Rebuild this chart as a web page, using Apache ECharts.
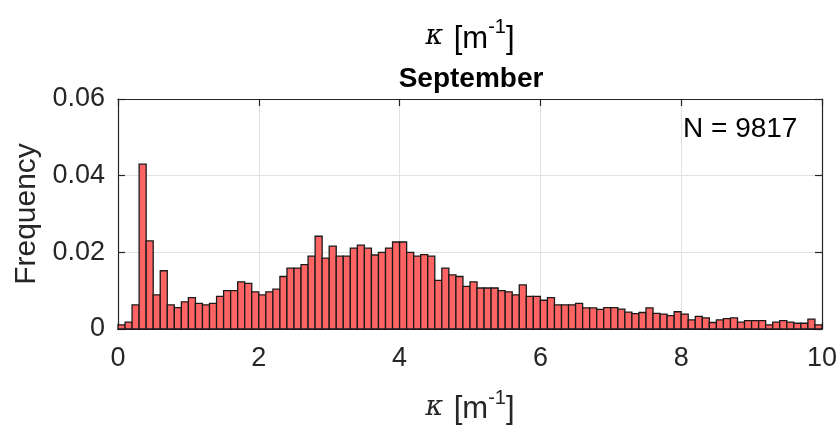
<!DOCTYPE html>
<html>
<head>
<meta charset="utf-8">
<script src="https://cdn.jsdelivr.net/npm/echarts@6/dist/echarts.min.js"></script>
<style>html,body{margin:0;padding:0;background:#fff;}#c{width:840px;height:430px;}</style>
</head>
<body>
<div id="c"></div>
<script>
// Histogram of curvature kappa, bins of width 0.1 from 0 to 10
const binWidth = 0.1;
const binStart = 0;
const frequencies = [
  0.0011,0.0018,0.0063,0.0430,0.0230,0.0089,0.0152,0.0063,0.0056,0.0071,
  0.0082,0.0067,0.0063,0.0067,0.0085,0.0100,0.0100,0.0123,0.0119,0.0097,
  0.0089,0.0097,0.0104,0.0137,0.0159,0.0159,0.0168,0.0190,0.0242,0.0185,
  0.0216,0.0190,0.0190,0.0211,0.0219,0.0211,0.0193,0.0200,0.0211,0.0227,
  0.0227,0.0200,0.0190,0.0194,0.0190,0.0127,0.0159,0.0141,0.0137,0.0111,
  0.0123,0.0107,0.0107,0.0107,0.0100,0.0097,0.0089,0.0115,0.0085,0.0085,
  0.0075,0.0082,0.0063,0.0063,0.0063,0.0067,0.0055,0.0055,0.0051,0.0056,
  0.0056,0.0052,0.0044,0.0040,0.0043,0.0055,0.0041,0.0039,0.0035,0.0045,
  0.0039,0.0024,0.0033,0.0029,0.0017,0.0024,0.0027,0.0029,0.0018,0.0022,
  0.0022,0.0022,0.0011,0.0018,0.0022,0.0018,0.0015,0.0015,0.0026,0.0011
];
const xTicks = [0, 2, 4, 6, 8, 10];
const yTicks = [0, 0.02, 0.04, 0.06];
const titleText = 'September';
const countText = 'N = 9817';

const data = frequencies.map((v, i) => [binStart + i * binWidth, binStart + (i + 1) * binWidth, v]);

const TXT = '#262626';
const FONT = '"Liberation Sans", Arial, Helvetica, sans-serif';
const kappaRich = {
  k: { fontFamily: '"DejaVu Serif", "Liberation Serif", serif', fontStyle: 'italic', fontSize: 27, color: TXT, lineHeight: 37, verticalAlign: 'bottom', padding: [0, 2, 4, 0] },
  t: { fontFamily: FONT, fontSize: 31, color: TXT, lineHeight: 37, verticalAlign: 'bottom' },
  s: { fontFamily: FONT, fontSize: 20, color: TXT, lineHeight: 17, verticalAlign: 'top' }
};
const kappaLabel = '{k|κ}{t| [m}{s|-1}{t|]}';

const chart = echarts.init(document.getElementById('c'), null, { renderer: 'canvas' });
const axisLineStyle = { color: TXT, width: 1.2 };
chart.setOption({
  animation: false,
  backgroundColor: '#fff',
  grid: { left: 118, right: 18, top: 99, bottom: 101, containLabel: false },
  xAxis: [{
    type: 'value', min: xTicks[0], max: xTicks[xTicks.length - 1], interval: 2,
    position: 'bottom',
    axisLine: { show: true, onZero: false, lineStyle: axisLineStyle },
    axisTick: { show: true, inside: true, length: 7, lineStyle: axisLineStyle },
    axisLabel: { color: TXT, fontSize: 27, fontFamily: FONT, margin: 16 },
    splitLine: { show: true, lineStyle: { color: '#e2e2e2', width: 1 } },
    name: kappaLabel, nameLocation: 'middle', nameGap: 59,
    nameTextStyle: { rich: kappaRich }
  }, {
    type: 'value', min: xTicks[0], max: xTicks[xTicks.length - 1], interval: 2,
    position: 'top',
    axisLine: { show: true, onZero: false, lineStyle: axisLineStyle },
    axisTick: { show: true, inside: true, length: 7, lineStyle: axisLineStyle },
    axisLabel: { show: false }, splitLine: { show: false }
  }],
  yAxis: [{
    type: 'value', min: yTicks[0], max: yTicks[yTicks.length - 1], interval: 0.02,
    position: 'left',
    axisLine: { show: true, onZero: false, lineStyle: axisLineStyle },
    axisTick: { show: true, inside: true, length: 7, lineStyle: axisLineStyle },
    axisLabel: { color: TXT, fontSize: 27, fontFamily: FONT, margin: 13,
      formatter: v => (v === 0 ? '0' : v.toFixed(2)) },
    splitLine: { show: true, lineStyle: { color: '#e2e2e2', width: 1 } },
    name: 'Frequency', nameLocation: 'middle', nameGap: 76,
    nameTextStyle: { color: TXT, fontSize: 30, fontFamily: FONT }
  }, {
    type: 'value', min: yTicks[0], max: yTicks[yTicks.length - 1], interval: 0.02,
    position: 'right',
    axisLine: { show: true, onZero: false, lineStyle: axisLineStyle },
    axisTick: { show: true, inside: true, length: 7, lineStyle: axisLineStyle },
    axisLabel: { show: false }, splitLine: { show: false }
  }],
  graphic: [
    { type: 'text', x: 470, y: 36, style: { text: kappaLabel, rich: kappaRich, align: 'center', verticalAlign: 'middle' } },
    { type: 'text', x: 471, y: 79, style: { text: titleText, fill: '#000', font: 'bold 28px ' + FONT, align: 'center', verticalAlign: 'middle' } },
    { type: 'text', x: 683, y: 129, style: { text: countText, fill: '#000', font: '28px ' + FONT, align: 'left', verticalAlign: 'middle' } }
  ],
  series: [{
    type: 'custom',
    xAxisIndex: 0, yAxisIndex: 0,
    data: data,
    encode: { x: [0, 1], y: 2 },
    renderItem: function (params, api) {
      const p0 = api.coord([api.value(0), api.value(2)]);
      const p1 = api.coord([api.value(1), 0]);
      return {
        type: 'rect',
        shape: { x: p0[0], y: p0[1], width: p1[0] - p0[0], height: p1[1] - p0[1] },
        style: { fill: '#ff6464', stroke: '#1a1a1a', lineWidth: 1.3 }
      };
    }
  }]
});
</script>
</body>
</html>
